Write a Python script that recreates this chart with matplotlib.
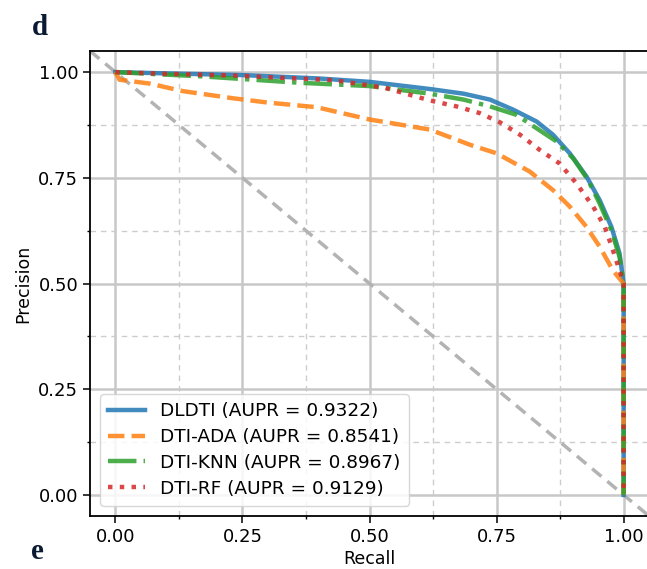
import matplotlib
matplotlib.use("Agg")
import matplotlib.pyplot as plt
from matplotlib.ticker import MultipleLocator

# Precision-recall curves (recall on x, precision on y)
dldti_recall = [0, 0.1, 0.25, 0.4, 0.5, 0.619, 0.685, 0.737, 0.783, 0.829, 0.861, 0.894,
                0.927, 0.953, 0.976, 0.992, 1.0, 1.0]
dldti_precision = [1.0, 0.997, 0.993, 0.985, 0.977, 0.960, 0.949, 0.935, 0.911, 0.883, 0.852, 0.808,
                   0.753, 0.697, 0.634, 0.571, 0.50, 0.0]

ada_recall = [0, 0.008, 0.067, 0.133, 0.232, 0.3, 0.396, 0.5, 0.619, 0.698, 0.75, 0.815,
              0.861, 0.894, 0.927, 0.953, 0.979, 0.989, 1.0, 1.0]
ada_precision = [1.0, 0.982, 0.973, 0.955, 0.938, 0.928, 0.917, 0.888, 0.864, 0.828, 0.808, 0.765,
                 0.721, 0.682, 0.634, 0.587, 0.531, 0.516, 0.50, 0.0]

knn_recall = [0, 0.1, 0.17, 0.36, 0.5, 0.619, 0.685, 0.737, 0.789, 0.829, 0.868, 0.901,
              0.930, 0.953, 0.976, 0.992, 1.0, 1.0]
knn_precision = [1.0, 0.994, 0.990, 0.975, 0.967, 0.949, 0.935, 0.919, 0.899, 0.867, 0.836, 0.796,
                 0.745, 0.689, 0.626, 0.563, 0.50, 0.0]

rf_recall = [0, 0.1, 0.23, 0.43, 0.53, 0.619, 0.671, 0.717, 0.757, 0.796, 0.835, 0.874,
             0.907, 0.940, 0.963, 0.979, 0.993, 1.0, 1.0]
rf_precision = [1.0, 0.996, 0.992, 0.981, 0.963, 0.933, 0.919, 0.903, 0.881, 0.852, 0.816, 0.784,
                0.737, 0.682, 0.634, 0.579, 0.527, 0.50, 0.0]

labels = ["DLDTI (AUPR = 0.9322)", "DTI-ADA (AUPR = 0.8541)",
          "DTI-KNN (AUPR = 0.8967)", "DTI-RF (AUPR = 0.9129)"]
colors = ["#1f77b4", "#ff7f0e", "#2ca02c", "#d62728"]
styles = ["-", "--", "-.", ":"]

ticks = [0.0, 0.25, 0.5, 0.75, 1.0]

fig = plt.figure(figsize=(6.47, 5.69), dpi=100)
ax = fig.add_axes([0.1391, 0.0931, 0.864, 0.8173])

ax.set_xlim(-0.05, 1.05)
ax.set_ylim(-0.05, 1.05)

# chance diagonal
ax.axline((0, 1), (1, 0), color="#b3b3b3", lw=2.5, ls=(0, (3.5, 2.2)), zorder=1.5)

curves = [(dldti_recall, dldti_precision), (ada_recall, ada_precision),
          (knn_recall, knn_precision), (rf_recall, rf_precision)]
for (r, p), lab, c, s in zip(curves, labels, colors, styles):
    ax.plot(r, p, color=c, ls=s, lw=3.2, alpha=0.85, label=lab, zorder=2,
            solid_joinstyle="round", dash_joinstyle="round")

ax.set_xticks(ticks)
ax.set_yticks(ticks)
ax.xaxis.set_minor_locator(MultipleLocator(0.125))
ax.yaxis.set_minor_locator(MultipleLocator(0.125))
ax.tick_params(which="major", labelsize=13, length=5, width=1.1)
ax.tick_params(which="minor", length=2.5, width=1.0)
ax.grid(which="major", color="#c8c8c8", lw=1.8, ls="-")
ax.grid(which="minor", color="#cdcdcd", lw=1.0, ls=(0, (4, 3.5)))
ax.set_axisbelow(True)
for sp in ax.spines.values():
    sp.set_linewidth(1.3)

ax.set_xlabel("Recall", fontsize=12.5, labelpad=3)
ax.set_ylabel("Precision", fontsize=12.5)

ax.legend(loc="lower left", fontsize=13.3, framealpha=0.85, edgecolor="#d0d0d0",
          labelspacing=0.42, handlelength=2.0, borderaxespad=0.55, borderpad=0.45)

fig.text(0.050, 0.952, "d", fontsize=21, fontweight="bold", family="Liberation Serif",
         color="#0b1a33", ha="left", va="center")
fig.text(0.048, 0.030, "e", fontsize=21, fontweight="bold", family="Liberation Serif",
         color="#0b1a33", ha="left", va="center")

fig.savefig("out.png", dpi=100)
